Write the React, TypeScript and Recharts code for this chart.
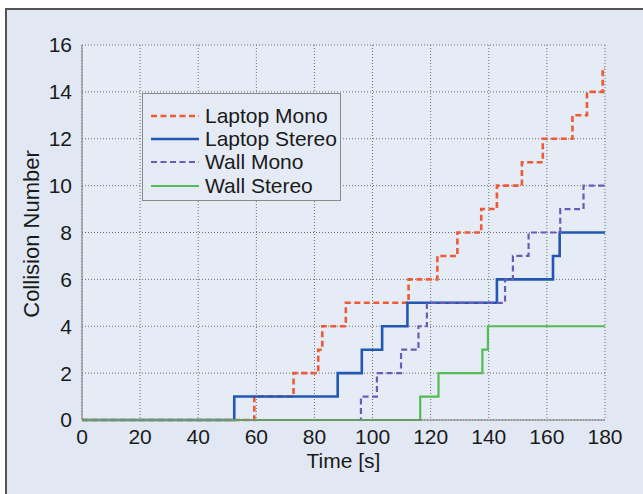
import React from 'react';
import {
  LineChart,
  Line,
  XAxis,
  YAxis,
  CartesianGrid,
  Label,
} from 'recharts';

// step times [s] and the collision count reached at each step
const laptopMonoTimes = [0, 59.3, 72.8, 81.3, 82.7, 90.8, 112.4, 122.3, 129.2, 137.4, 142.8, 151.4, 158.6, 168.8, 173.8, 179.2, 180];
const laptopMonoCounts = [0, 1, 2, 3, 4, 5, 6, 7, 8, 9, 10, 11, 12, 13, 14, 15, 15];

const laptopStereoTimes = [0, 52.4, 88.0, 96.3, 103.3, 112.0, 142.8, 162.1, 164.4, 180];
const laptopStereoCounts = [0, 1, 2, 3, 4, 5, 6, 7, 8, 8];

const wallMonoTimes = [0, 96.0, 101.5, 109.8, 115.8, 118.7, 145.6, 148.3, 153.7, 164.6, 172.6, 180];
const wallMonoCounts = [0, 1, 2, 3, 4, 5, 6, 7, 8, 9, 10, 10];

const wallStereoTimes = [0, 116.4, 122.7, 137.8, 139.7, 180];
const wallStereoCounts = [0, 1, 2, 3, 4, 4];

const xTicks = [0, 20, 40, 60, 80, 100, 120, 140, 160, 180];
const yTicks = [0, 2, 4, 6, 8, 10, 12, 14, 16];

const toPoints = (times: number[], counts: number[]) =>
  times.map((t, i) => ({ t, n: counts[i] }));

const series = [
  { name: 'Laptop Mono', data: toPoints(laptopMonoTimes, laptopMonoCounts), color: '#ee5a35', width: 2.6, dash: '6 3.5' },
  { name: 'Laptop Stereo', data: toPoints(laptopStereoTimes, laptopStereoCounts), color: '#2257b2', width: 2.6, dash: undefined },
  { name: 'Wall Mono', data: toPoints(wallMonoTimes, wallMonoCounts), color: '#6a5bb8', width: 2.2, dash: '6 3.5' },
  { name: 'Wall Stereo', data: toPoints(wallStereoTimes, wallStereoCounts), color: '#55bb55', width: 2.2, dash: undefined },
];

const FONT = '"Liberation Sans", Arial, Helvetica, sans-serif';
const TEXT = '#1a1a1a';
const FS = 21;

// legend drawn as a plain overlay so it takes no room from the plot
const LegendBox = () => (
  <div
    style={{
      position: 'absolute',
      left: 142,
      top: 93,
      width: 199,
      height: 108,
      border: '1px solid #8a8a8a',
      background: '#e5ebf5',
      boxSizing: 'border-box',
      paddingTop: 10,
      fontFamily: FONT,
      fontSize: FS,
      color: TEXT,
    }}
  >
    {series.map((s) => (
      <div key={s.name} style={{ display: 'flex', alignItems: 'center', height: 23.3 }}>
        <svg width={62} height={10} style={{ flex: 'none' }}>
          <line
            x1={8}
            x2={56}
            y1={5}
            y2={5}
            stroke={s.color}
            strokeWidth={s.width}
            strokeDasharray={s.dash}
          />
        </svg>
        <span style={{ lineHeight: '20px', whiteSpace: 'nowrap' }}>{s.name}</span>
      </div>
    ))}
  </div>
);

const YTitle = () => (
  <text
    x={31}
    y={234}
    transform="rotate(-90 31 234)"
    textAnchor="middle"
    dominantBaseline="central"
    fontFamily={FONT}
    fontSize={22}
    fill={TEXT}
  >
    Collision Number
  </text>
);

export default function App() {
  return (
    <div
      style={{
        position: 'absolute',
        left: 0,
        top: 0,
        width: 643,
        height: 494,
        overflow: 'hidden',
        background: '#ffffff',
      }}
    >
      <div
        style={{
          position: 'absolute',
          left: 5,
          top: 8,
          width: 700,
          height: 600,
          border: '2px solid #555',
          background: '#e1e8f4',
        }}
      />
      <div style={{ position: 'absolute', left: 0, top: 0 }}>
        <LineChart
          width={643}
          height={494}
          margin={{ top: 45, right: 38, bottom: 44, left: 22 }}
        >
          <CartesianGrid stroke="#6e6e6e" strokeDasharray="1 2" fill="#e6ecf6" />
          <XAxis
            dataKey="t"
            type="number"
            domain={[0, 180]}
            ticks={xTicks}
            height={30}
            tickLine={false}
            tickMargin={3}
            axisLine={{ stroke: '#7a7a7a', strokeWidth: 1 }}
            tick={{ fill: TEXT, fontSize: FS, fontFamily: FONT }}
            interval={0}
          >
            <Label
              value="Time [s]"
              position="bottom"
              offset={3}
              style={{ fill: TEXT, fontSize: FS, fontFamily: FONT }}
            />
          </XAxis>
          <YAxis
            type="number"
            domain={[0, 16]}
            ticks={yTicks}
            width={60}
            tickLine={false}
            tickMargin={4}
            axisLine={{ stroke: '#7a7a7a', strokeWidth: 1 }}
            tick={{ fill: TEXT, fontSize: FS, fontFamily: FONT }}
            interval={0}
          >
            <Label content={<YTitle />} />
          </YAxis>
          {series.map((s) => (
            <Line
              key={s.name}
              name={s.name}
              data={s.data}
              dataKey="n"
              type="stepAfter"
              stroke={s.color}
              strokeWidth={s.width}
              strokeDasharray={s.dash}
              dot={false}
              activeDot={false}
              isAnimationActive={false}
            />
          ))}
        </LineChart>
      </div>
      <LegendBox />
    </div>
  );
}
